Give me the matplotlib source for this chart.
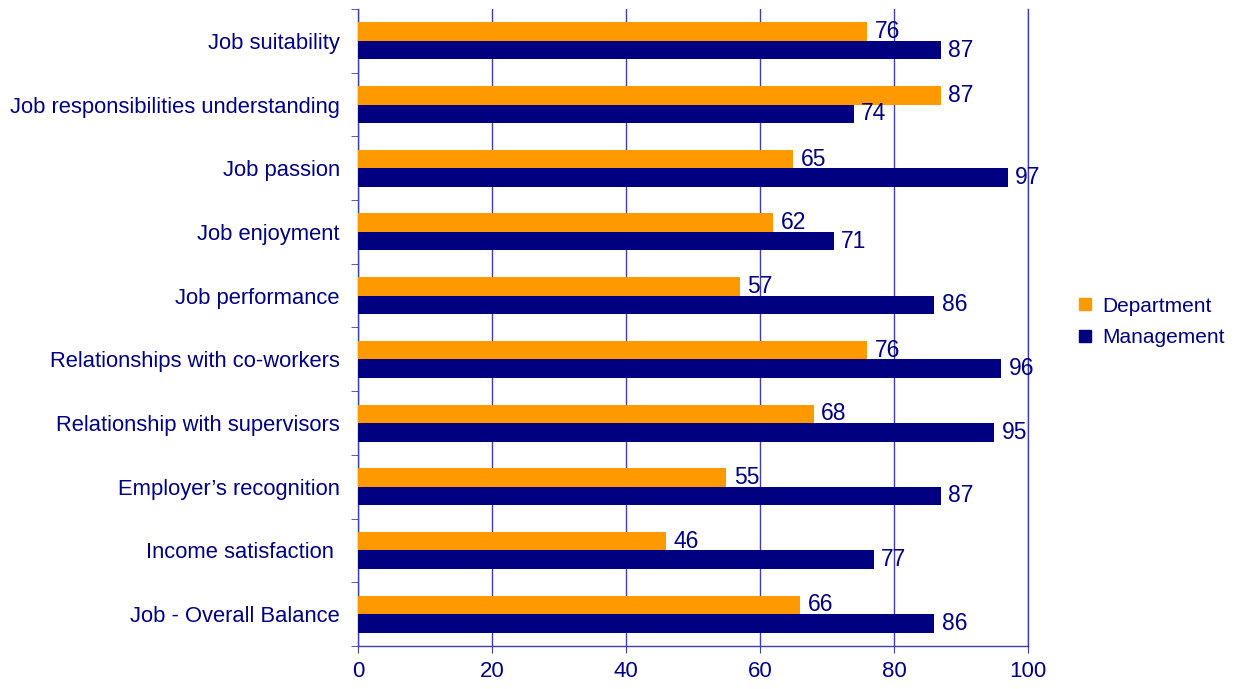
import matplotlib.pyplot as plt
import numpy as np
from matplotlib.lines import Line2D

plt.rcParams['font.family'] = ['Liberation Sans', 'DejaVu Sans']

categories = ["Job suitability", "Job responsibilities understanding", "Job passion",
              "Job enjoyment", "Job performance", "Relationships with co-workers",
              "Relationship with supervisors", "Employer\u2019s recognition",
              "Income satisfaction ", "Job - Overall Balance"]
department = [76, 87, 65, 62, 57, 76, 68, 55, 46, 66]
management = [87, 74, 97, 71, 86, 96, 95, 87, 77, 86]
xticks = [0, 20, 40, 60, 80, 100]

navy = "#000080"
orange = "#FF9900"
gridc = "#3F3FA8"

fig = plt.figure(figsize=(12.42, 6.89), dpi=100)
ax = fig.add_axes([358/1242, 1 - 646/689, 670/1242, 637/689])

y = np.arange(len(categories))
h = 0.29
ax.barh(y - h/2, department, height=h, color=orange, zorder=3)
ax.barh(y + h/2, management, height=h, color=navy, zorder=3)

for yi, d, m in zip(y, department, management):
    ax.text(d + 1.1, yi - h/2, str(d), va="center", ha="left", color=navy, fontsize=16.5)
    ax.text(m + 1.1, yi + h/2, str(m), va="center", ha="left", color=navy, fontsize=16.5)

ax.set_xlim(0, 100)
ax.set_ylim(len(categories) - 0.5, -0.5)
ax.set_xticks(xticks)
ax.set_xticklabels([str(t) for t in xticks])
ax.set_yticks(y)
ax.set_yticklabels(categories)
ax.set_yticks(np.arange(len(categories) + 1) - 0.5, minor=True)

ax.tick_params(axis="y", which="major", length=0, pad=13, labelsize=15.8, labelcolor=navy)
ax.tick_params(axis="y", which="minor", length=5, color=gridc, direction="out")
ax.tick_params(axis="x", length=5, color=gridc, labelsize=16, labelcolor=navy, pad=6)

ax.grid(axis="x", color=gridc, lw=1, zorder=0)
ax.spines["top"].set_visible(False)
for s in ["left", "bottom", "right"]:
    ax.spines[s].set_color(gridc)
    ax.spines[s].set_linewidth(1)

handles = [Line2D([], [], marker="s", ls="", color=orange, markersize=8),
           Line2D([], [], marker="s", ls="", color=navy, markersize=8)]
leg = fig.legend(handles, ["Department", "Management"], loc="center left",
                 bbox_to_anchor=(1056/1242, 1 - 322/689), frameon=False,
                 fontsize=15, handletextpad=0.3, labelspacing=0.6, handlelength=1)
for t in leg.get_texts():
    t.set_color(navy)

plt.savefig("out.png", dpi=100)
